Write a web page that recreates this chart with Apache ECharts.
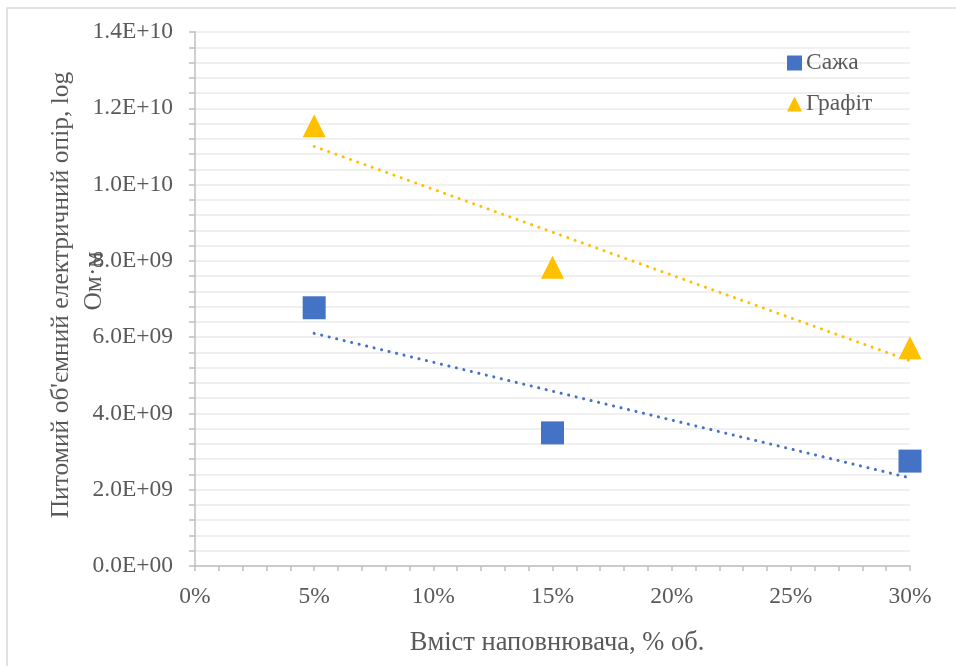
<!DOCTYPE html>
<html>
<head>
<meta charset="utf-8">
<script src="https://cdn.jsdelivr.net/npm/echarts@6/dist/echarts.min.js"></script>
<style>
  html, body { margin: 0; padding: 0; background: #ffffff; }
  #chart { width: 956px; height: 666px; }
</style>
</head>
<body>
<div id="chart"></div>
<script>
// Filler content (fraction of volume) and measured resistivity, Ohm·m
const fillerContent = [0.05, 0.15, 0.30];
const sootValues = [6.77e9, 3.49e9, 2.75e9];
const graphiteValues = [11.54e9, 7.83e9, 5.72e9];

// Linear trend line end points at 5 % and 30 %
const trendX = [0.05, 0.30];
const sootTrend = [6.10e9, 2.31e9];
const graphiteTrend = [11.0e9, 5.38e9];

const seriesNames = ['Сажа', 'Графіт'];
const xTitle = 'Вміст наповнювача, % об.';
const yTitleLines = ["Питомий об'ємний електричний опір, log", 'Ом·м'];

const FONT = '"Liberation Serif", "Times New Roman", serif';
const TEXT = '#595959';
const BLUE = '#4472C4';
const GOLD = '#FFC000';
const LABEL_SIZE = 23.5;

function sci(v) {
  if (v === 0) return '0.0E+00';
  const exp = Math.floor(Math.log10(Math.abs(v)) + 1e-9);
  const mant = v / Math.pow(10, exp);
  const e = String(Math.abs(exp)).padStart(2, '0');
  return mant.toFixed(1) + 'E' + (exp < 0 ? '-' : '+') + e;
}

const pairs = (xs, ys) => xs.map((x, i) => [x, ys[i]]);

const chart = echarts.init(document.getElementById('chart'), null, { renderer: 'canvas' });

chart.setOption({
  backgroundColor: '#ffffff',
  animation: false,
  textStyle: { fontFamily: FONT, color: TEXT },
  grid: { left: 195, top: 32, right: 46, bottom: 100, containLabel: false },
  legend: {
    orient: 'vertical',
    left: 787,
    top: 51,
    padding: 0,
    itemWidth: 15,
    itemHeight: 15,
    itemGap: 17,
    data: [
      { name: seriesNames[0], icon: 'rect' },
      { name: seriesNames[1], icon: 'triangle' }
    ],
    textStyle: { fontFamily: FONT, fontSize: LABEL_SIZE, lineHeight: 24, color: TEXT, padding: [0, 0, 0, -1] }
  },
  xAxis: {
    type: 'value',
    min: 0,
    max: 0.30,
    interval: 0.05,
    axisLine: { show: true, lineStyle: { color: '#bfbfbf', width: 1.5 } },
    axisTick: { show: true, length: 5, lineStyle: { color: '#bfbfbf', width: 1.5 } },
    minorTick: { show: true, splitNumber: 5, length: 5, lineStyle: { color: '#bfbfbf', width: 1.5 } },
    splitLine: { show: false },
    axisLabel: {
      margin: 19,
      fontSize: LABEL_SIZE,
      fontFamily: FONT,
      color: TEXT,
      formatter: v => Math.round(v * 100) + '%'
    }
  },
  yAxis: {
    type: 'value',
    min: 0,
    max: 1.4e10,
    interval: 2e9,
    axisLine: { show: true, lineStyle: { color: '#bfbfbf', width: 1.5 } },
    axisTick: { show: true, length: 6, lineStyle: { color: '#bfbfbf', width: 1.5 } },
    minorTick: { show: true, splitNumber: 5, length: 6, lineStyle: { color: '#bfbfbf', width: 1.5 } },
    splitLine: { show: true, lineStyle: { color: '#ebebeb', width: 1.5 } },
    minorSplitLine: { show: true, lineStyle: { color: '#ebebeb', width: 1.5 } },
    axisLabel: {
      margin: 22,
      fontSize: LABEL_SIZE,
      fontFamily: FONT,
      color: TEXT,
      formatter: v => sci(v)
    }
  },
  graphic: [
    {
      type: 'rect',
      shape: { x: 7, y: 8, width: 980, height: 700 },
      style: { fill: null, stroke: '#d9d9d9', lineWidth: 1.5 },
      silent: true,
      z: -1
    },
    {
      type: 'text',
      x: 557, y: 643,
      style: { text: xTitle, font: '26.5px ' + FONT, fill: TEXT, textAlign: 'center', textVerticalAlign: 'middle' }
    },
    {
      type: 'text',
      x: 61, y: 295, rotation: Math.PI / 2,
      style: { text: yTitleLines[0], font: '25.5px ' + FONT, fill: TEXT, textAlign: 'center', textVerticalAlign: 'middle' }
    },
    {
      type: 'text',
      x: 94, y: 281, rotation: Math.PI / 2,
      style: { text: yTitleLines[1], font: '25.5px ' + FONT, fill: TEXT, textAlign: 'center', textVerticalAlign: 'middle' }
    }
  ],
  series: [
    {
      name: seriesNames[0] + ' тренд',
      type: 'line',
      data: pairs(trendX, sootTrend),
      symbol: 'none',
      lineStyle: { color: BLUE, width: 3, type: [0.1, 7.6], cap: 'round' },
      silent: true,
      z: 1
    },
    {
      name: seriesNames[1] + ' тренд',
      type: 'line',
      data: pairs(trendX, graphiteTrend),
      symbol: 'none',
      lineStyle: { color: GOLD, width: 3, type: [0.1, 7.6], cap: 'round' },
      silent: true,
      z: 1
    },
    {
      name: seriesNames[0],
      type: 'scatter',
      data: pairs(fillerContent, sootValues),
      symbol: 'rect',
      symbolSize: 23,
      itemStyle: { color: BLUE, opacity: 1 },
      z: 3
    },
    {
      name: seriesNames[1],
      type: 'scatter',
      data: pairs(fillerContent, graphiteValues),
      symbol: 'triangle',
      symbolSize: 23,
      itemStyle: { color: GOLD, opacity: 1 },
      z: 3
    }
  ]
});
</script>
</body>
</html>
